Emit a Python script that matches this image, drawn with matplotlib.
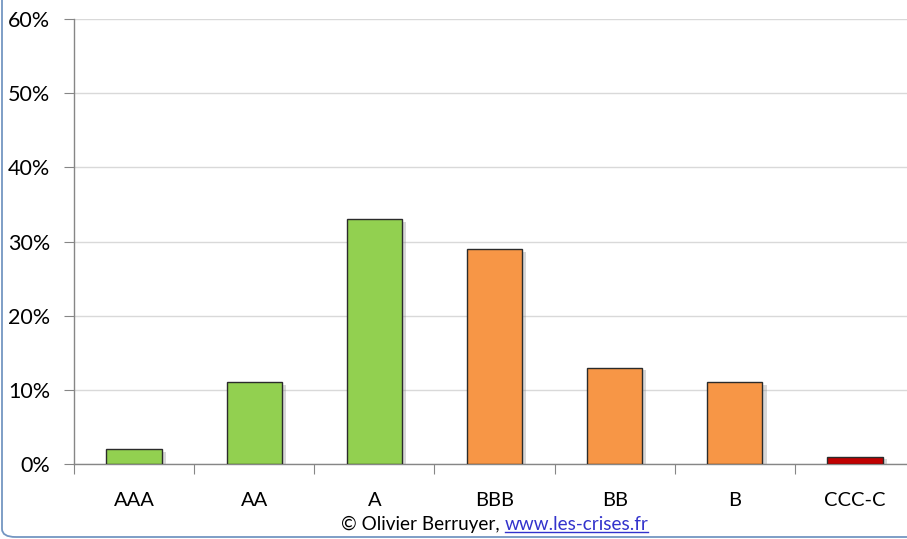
import matplotlib.pyplot as plt
import matplotlib.patheffects as pe
from matplotlib.patches import FancyBboxPatch
from matplotlib.lines import Line2D

# ratings distribution
ratings = ["AAA", "AA", "A", "BBB", "BB", "B", "CCC-C"]
shares = [2, 11, 33, 29, 13, 11, 1]
colors = ["#92D050", "#92D050", "#92D050", "#F79646", "#F79646", "#F79646", "#C00000"]
yticks = [0, 10, 20, 30, 40, 50, 60]

plt.rcParams['font.family'] = ['Lato', 'DejaVu Sans']

W, H = 907, 539
fig = plt.figure(figsize=(W / 100, H / 100), dpi=100)

# frame of the chart area (only left/bottom part is visible)
frame = FancyBboxPatch((2 / W, 2 / H), 1.2, 1.2, boxstyle="round,pad=0,rounding_size=0.015",
                       transform=fig.transFigure, fill=False, edgecolor="#7496C2", linewidth=1.3)
fig.patches.append(frame)

# axes from 74px to 915px horizontally, 0% at y=464, 60% at y=19
ax = fig.add_axes([74 / W, (H - 464) / H, (915 - 74) / W, (464 - 19) / H])
ax.set_facecolor("none")

x = range(len(ratings))
bars = ax.bar(x, shares, width=0.46, color=colors, edgecolor="#2b2b2b", linewidth=1.0, zorder=3)
for b in bars:
    b.set_path_effects([pe.SimplePatchShadow(offset=(3, -2), shadow_rgbFace="#808080", alpha=0.3),
                        pe.Normal()])

ax.set_xlim(-0.5, len(ratings) - 0.5)
ax.set_ylim(0, 60)
ax.set_yticks(yticks)
ax.set_yticklabels([f"{v}%" for v in yticks])
ax.grid(axis="y", color="#D9D9D9", linewidth=1.0, zorder=0)
ax.set_axisbelow(True)

for s in ["top", "right"]:
    ax.spines[s].set_visible(False)
for s in ["left", "bottom"]:
    ax.spines[s].set_color("#868686")
    ax.spines[s].set_linewidth(1.0)

# category labels centered, tick marks at boundaries
ax.set_xticks([i - 0.5 for i in range(len(ratings) + 1)], minor=False)
ax.set_xticklabels([])
ax.set_xticks(list(x), minor=True)
ax.set_xticklabels(ratings, minor=True)
ax.tick_params(axis="x", which="major", length=7, color="#868686", direction="out")
ax.tick_params(axis="x", which="minor", length=0, pad=20, labelsize=14.5, labelcolor="black")
ax.tick_params(axis="y", length=7, color="#868686", pad=10, labelsize=15.5, labelcolor="black")

# credit line
t1 = fig.text(341 / W, 1 - 530 / H, "\u00a9 Olivier Berruyer, ", fontsize=13.6, color="black",
              ha="left", va="baseline")
fig.canvas.draw()
bb = t1.get_window_extent()
x2 = bb.x1 / W
t2 = fig.text(x2, 1 - 530 / H, "www.les-crises.fr", fontsize=13.6, color="#3333CC",
              ha="left", va="baseline")
fig.canvas.draw()
bb2 = t2.get_window_extent()
uy = 1 - 532 / H
fig.add_artist(Line2D([bb2.x0 / W, bb2.x1 / W], [uy, uy], color="#3333CC", linewidth=1.0,
                      transform=fig.transFigure))

fig.savefig("out.png", dpi=100)
